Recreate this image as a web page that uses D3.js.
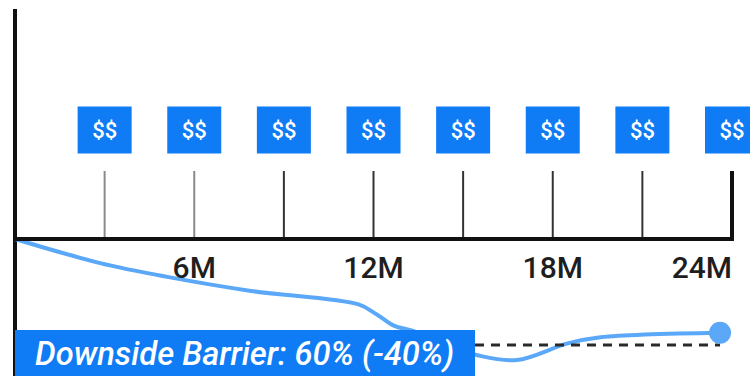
<!DOCTYPE html>
<html>
<head>
<meta charset="utf-8">
<script src="https://cdn.jsdelivr.net/npm/d3@7"></script>
<style>
  html, body { margin: 0; padding: 0; background: #fff; overflow: hidden; }
  svg { display: block; }
</style>
</head>
<body>
<svg id="chart" width="750" height="376"></svg>
<script>
// ---- data ----
const couponMonths = [3, 6, 9, 12, 15, 18, 21, 24];
const couponLabel = "$$";
const tickMonths = [6, 12, 18, 24];
const tickLabels = ["6M", "12M", "18M", "24M"];
const pathMonths = [0, 2.85, 5.1, 7.9, 11.5, 12.1, 12.7, 13.3, 14.3, 15.45, 16.8, 18.5, 19.6, 23.6];
const pathValues = [100, 90.9, 85.7, 80.4, 75.3, 71.6, 67.2, 65.4, 60.2, 56.2, 54.3, 60.6, 62.9, 64.6];
const barrierLevel = 60;
const barrierText = "Downside Barrier: 60% (-40%)";

// ---- layout ----
const W = 750, H = 376;
const svg = d3.select("#chart");
const x = d3.scaleLinear().domain([0, 24]).range([15, 732]);
const y = d3.scaleLinear().domain([60, 100]).range([345, 239]);

const blue = "#0f7cf5";
const lineBlue = "#5aa8f7";

// vertical axis
svg.append("line")
  .attr("x1", x(0)).attr("x2", x(0))
  .attr("y1", 9).attr("y2", H)
  .attr("stroke", "#111").attr("stroke-width", 4);

// line path (under barrier box)
const line = d3.line()
  .x((d, i) => x(pathMonths[i]))
  .y(d => y(d))
  .curve(d3.curveCatmullRom.alpha(0.5));
svg.append("path")
  .datum(pathValues)
  .attr("d", line)
  .attr("fill", "none")
  .attr("stroke", lineBlue)
  .attr("stroke-width", 4)
  .attr("stroke-linecap", "round");

// dashed barrier line
svg.append("line")
  .attr("x1", 475).attr("x2", x(pathMonths[pathMonths.length - 1]))
  .attr("y1", y(barrierLevel)).attr("y2", y(barrierLevel))
  .attr("stroke", "#2a2a2a").attr("stroke-width", 3)
  .attr("stroke-dasharray", "9,7");

// end dot
svg.append("circle")
  .attr("cx", x(pathMonths[pathMonths.length - 1]))
  .attr("cy", y(pathValues[pathValues.length - 1]))
  .attr("r", 11)
  .attr("fill", lineBlue);

// barrier box
svg.append("rect")
  .attr("x", x(0)).attr("y", 330)
  .attr("width", 460).attr("height", H - 330)
  .attr("fill", blue);
svg.append("text")
  .attr("x", 35).attr("y", 365)
  .attr("fill", "#fff")
  .attr("font-family", "Roboto, sans-serif")
  .attr("font-style", "italic")
  .attr("font-weight", 500)
  .attr("font-size", 32.7)
  .text(barrierText);

// coupon tick lines
svg.selectAll("line.ctick")
  .data(couponMonths)
  .join("line")
  .attr("class", "ctick")
  .attr("x1", d => x(d)).attr("x2", d => x(d))
  .attr("y1", 171).attr("y2", y(100))
  .attr("stroke", (d, i) => i < 2 ? "#8a8a8a" : (d === 24 ? "#111" : "#333"))
  .attr("stroke-width", d => d === 24 ? 4 : 2);

// horizontal axis
svg.append("line")
  .attr("x1", x(0) - 2).attr("x2", x(24) + 2)
  .attr("y1", y(100)).attr("y2", y(100))
  .attr("stroke", "#111").attr("stroke-width", 4);

// coupon boxes
const bw = 54, bh = 47;
const g = svg.selectAll("g.coupon")
  .data(couponMonths)
  .join("g")
  .attr("class", "coupon")
  .attr("transform", d => `translate(${x(d)},${130})`);
g.append("rect")
  .attr("x", -bw / 2).attr("y", -bh / 2)
  .attr("width", bw).attr("height", bh)
  .attr("fill", blue);
g.append("text")
  .attr("text-anchor", "middle")
  .attr("dy", "0.36em")
  .attr("fill", "#fff")
  .attr("font-family", "Roboto, sans-serif")
  .attr("font-weight", 500)
  .attr("font-size", 22)
  .text(couponLabel);

// tick labels
svg.selectAll("text.tlabel")
  .data(tickMonths)
  .join("text")
  .attr("class", "tlabel")
  .attr("x", d => x(d))
  .attr("y", 278)
  .attr("text-anchor", (d, i) => i === tickMonths.length - 1 ? "end" : "middle")
  .attr("fill", "#1e1e1e")
  .attr("font-family", "Roboto, sans-serif")
  .attr("font-weight", 500)
  .attr("font-size", 30)
  .text((d, i) => tickLabels[i]);
</script>
</body>
</html>
